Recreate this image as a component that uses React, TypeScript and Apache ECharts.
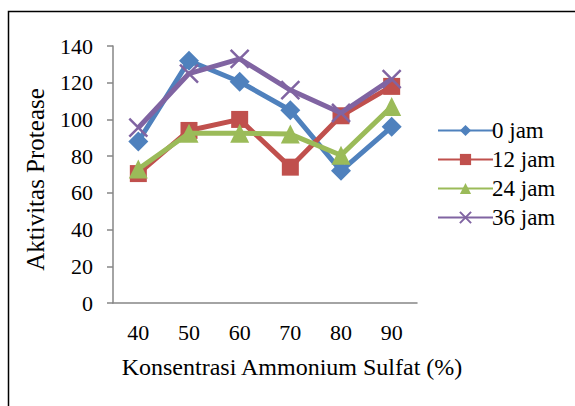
import React, { useEffect, useRef } from "react";
import * as echarts from "echarts";

const categories = ["40", "50", "60", "70", "80", "90"];
const seriesNames = ["0 jam", "12 jam", "24 jam", "36 jam"];
const jam0 = [88, 132, 120.5, 105, 72, 96];
const jam12 = [70.5, 94, 100, 74, 102, 118];
const jam24 = [73, 92.5, 92.5, 92, 80.5, 107];
const jam36 = [95.5, 125, 133, 116, 103.5, 122];
const colors = ["#4F81BD", "#C0504D", "#9BBB59", "#8064A2"];
const symbols = ["diamond", "rect", "triangle", "path://M0,0L10,10M10,0L0,10"];
const yTicks = { min: 0, max: 140, interval: 20 };

export default function App() {
  const ref = useRef<HTMLDivElement>(null);
  useEffect(() => {
    const chart = echarts.init(ref.current!, null, { renderer: "svg" });
    const font = "'Liberation Serif', 'Times New Roman', serif";
    const data = [jam0, jam12, jam24, jam36];
    chart.setOption({
      animation: false,
      textStyle: { fontFamily: font },
      graphic: [
        {
          type: "rect",
          shape: { x: 8.5, y: 11.5, width: 600, height: 420 },
          style: { fill: "none", stroke: "#000", lineWidth: 1.5 },
          silent: true,
        },
      ],
      grid: { left: 113, top: 46, right: 158, bottom: 103 },
      legend: {
        orient: "vertical",
        left: 432,
        top: 114,
        itemGap: 6,
        itemWidth: 55,
        itemHeight: 14,
        textStyle: { fontFamily: font, fontSize: 23, color: "#000", padding: [0, 0, 0, -6] },
        data: seriesNames,
      },
      xAxis: {
        type: "category",
        data: categories,
        boundaryGap: true,
        name: "Konsentrasi Ammonium Sulfat (%)",
        nameLocation: "middle",
        nameGap: 52,
        nameTextStyle: { fontFamily: font, fontSize: 24, color: "#000", padding: [0, 0, 0, 54] },
        axisLine: { lineStyle: { color: "#868686", width: 1.5 } },
        axisTick: { show: false },
        axisLabel: { fontFamily: font, fontSize: 22, color: "#000", margin: 18 },
      },
      yAxis: {
        type: "value",
        min: yTicks.min,
        max: yTicks.max,
        interval: yTicks.interval,
        name: "Aktivitas Protease",
        nameLocation: "middle",
        nameGap: 65,
        nameTextStyle: { fontFamily: font, fontSize: 25, color: "#000", padding: [0, 10, 0, 0] },
        axisLine: { show: true, lineStyle: { color: "#868686", width: 1.5 } },
        axisTick: { show: true, length: 6, lineStyle: { color: "#868686", width: 1.5 } },
        axisLabel: { fontFamily: font, fontSize: 22, color: "#000", margin: 20 },
        splitLine: { show: false },
      },
      series: seriesNames.map((name, i) => ({
        name,
        type: "line",
        data: data[i],
        symbol: symbols[i],
        symbolSize: i === 0 ? 20 : i === 1 ? 17 : i === 2 ? 19 : 18,
        lineStyle: { color: colors[i], width: 5 },
        itemStyle:
          i === 3
            ? { color: colors[i], borderColor: colors[i], borderWidth: 2.5 }
            : { color: colors[i], borderWidth: 0 },
        z: 2 + i,
      })),
    });
    return () => chart.dispose();
  }, []);
  return <div ref={ref} style={{ width: 575, height: 406, position: "absolute", left: 0, top: 0 }} />;
}
